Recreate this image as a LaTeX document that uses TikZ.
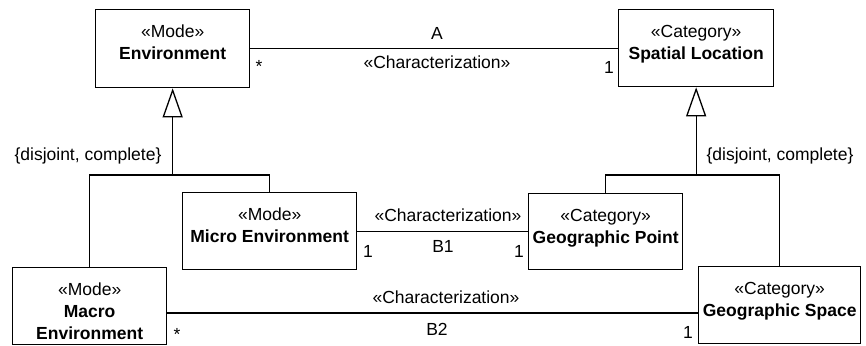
\documentclass[tikz,border=0pt]{standalone}
\usepackage{fontspec}
\setmainfont{Liberation Sans}
\usetikzlibrary{arrows.meta}
\tikzset{
  classbox/.style 2 args={draw, rectangle, anchor=north west, inner sep=0pt,
    minimum width=#1, minimum height=#2},
  title/.style={anchor=north, yshift=-15.5pt, align=center, inner sep=0pt},
  tag/.style={anchor=base, inner sep=0pt},
  gen/.style={-{Triangle[open,length=29pt,width=20pt]}}
}
\begin{document}
\begin{tikzpicture}[x=1pt,y=-1pt,line width=1.3pt,
  every node/.style={font=\fontsize{17.5}{22}\selectfont}]
\useasboundingbox (0,0) rectangle (866,345);

% classes
\node[classbox={154}{78}, label={[title]north:{«Mode»\\\textbf{Environment}}}] (env) at (95,9) {};
\node[classbox={155}{77}, label={[title]north:{«Category»\\\textbf{Spatial Location}}}] (spatial) at (618,9) {};
\node[classbox={174}{77}, label={[title]north:{«Mode»\\\textbf{Micro Environment}}}] (micro) at (182,192) {};
\node[classbox={154}{76}, label={[title]north:{«Category»\\\textbf{Geographic Point}}}] (point) at (528,193) {};
\node[classbox={154}{77}, label={[title]north:{«Mode»\\\textbf{Macro}\\\textbf{Environment}}}] (macro) at (12,267) {};
\node[classbox={162}{77}, label={[title]north:{«Category»\\\textbf{Geographic Space}}}] (space) at (698,266) {};

% generalization sets
\coordinate (jl) at (env.south |- 0,175);
\coordinate (jr) at (spatial.south |- 0,175);
\draw (macro.north) -- (macro.north |- jl) -- (micro.north |- jl) -- (micro.north);
\draw[gen] (jl) -- (env.south);
\draw (point.north) -- (point.north |- jr) -- (space.north |- jr) -- (space.north);
\draw[gen] (jr) -- (spatial.south);
\node[tag] (setl) at (88,160) {\{disjoint, complete\}};
\node[tag] (setr) at (780,160) {\{disjoint, complete\}};

% associations
\coordinate (b2) at (0,313);
\draw (env.east) -- (env.east -| spatial.west);
\draw (micro.east) -- (micro.east -| point.west);
\draw (macro.east |- b2) -- (space.west |- b2);

% association labels
\node[tag] (nA) at (437,40) {A};
\node[tag] (sA) at (437,68) {«Characterization»};
\node[tag] (mA1) at (259,72) {*};
\node[tag] (mA2) at (609,73) {1};

\node[tag] (sB1) at (448,221) {«Characterization»};
\node[tag] (nB1) at (443,252) {B1};
\node[tag] (mB11) at (368,257) {1};
\node[tag] (mB12) at (519,257) {1};

\node[tag] (sB2) at (446,303) {«Characterization»};
\node[tag] (nB2) at (437,335) {B2};
\node[tag] (mB21) at (177,340) {*};
\node[tag] (mB22) at (688,338) {1};
\end{tikzpicture}
\end{document}
